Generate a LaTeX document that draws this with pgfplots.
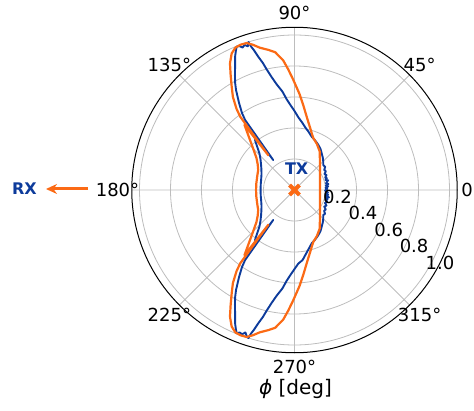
\documentclass[border=0pt]{standalone}
\usepackage{fontspec}
\setmainfont{DejaVu Sans}
\usepackage{pgfplots}
\pgfplotsset{compat=1.18}
\usepgfplotslibrary{polar}
\usetikzlibrary{arrows.meta}
\definecolor{cor}{HTML}{FB6A15}
\definecolor{cbl}{HTML}{0D3B9B}
\definecolor{cgr}{HTML}{BDBDBD}
\begin{document}
\begin{tikzpicture}[x=1pt,y=1pt]
\useasboundingbox (0,0) rectangle (474,410);
\begin{polaraxis}[
  at={(294.5pt,220pt)}, anchor=center,
  scale only axis, width=325.5pt, height=325.5pt,
  xmin=0, xmax=360, ymin=0, ymax=1.05,
  xtick={0,45,...,315}, ytick={0.2,0.4,0.6,0.8,1.0},
  xticklabels={}, yticklabels={},
  extra y ticks={1.05}, extra y tick labels={},
  extra y tick style={grid=major, major grid style={black, line width=1pt}},
  grid=major, major grid style={cgr, line width=0.8pt},
  major tick length=0pt,
  axis line style={draw=none},
  clip=false,
]
\addplot[cbl, line width=1.9pt, line join=round] coordinates {
(0,0.197) (2,0.212) (4,0.201) (6,0.218) (8,0.204) (10,0.222) (12,0.208) (14,0.215) (16,0.226) (18,0.21) (20,0.222) (22,0.214) (25,0.228) (28,0.219) (31,0.236) (34,0.231) (37,0.248) (41,0.246) (45,0.262) (49,0.278) (53.5,0.295) (58,0.315) (63,0.332) (67,0.345) (72,0.361) (77,0.39) (80,0.408) (83.4,0.437) (87,0.47) (90,0.51) (92.5,0.545) (94.9,0.587) (97,0.64) (99.6,0.692) (101.5,0.745) (103,0.799) (104,0.845) (105.2,0.891) (106.2,0.94) (106.8,0.965) (107.3,1.0) (108,0.975) (109,0.99) (110,0.978) (111,0.995) (112,0.997) (113,0.97) (114,0.942) (115.5,0.89) (117.4,0.835) (119,0.79) (120.3,0.748) (122.5,0.666) (124.3,0.601) (125.2,0.553) (125.4,0.237) (125.8,0.42) (128.3,0.411) (131,0.365) (134,0.325) (138,0.295) (143,0.27) (148.6,0.25) (155,0.235) (162,0.226) (170,0.221) (180,0.219)
(190,0.221) (198,0.226) (205,0.235) (211.4,0.25) (217,0.27) (222,0.295) (226,0.325) (229,0.365) (231.7,0.411) (234.2,0.42) (234.6,0.237) (234.8,0.553) (235.7,0.601) (237.5,0.666) (239.7,0.748) (241,0.79) (242.6,0.835) (244.5,0.89) (246,0.942) (247,0.97) (248,0.997) (249,0.985) (250,0.99) (251,0.972) (252,0.995) (252.7,1.0) (253.2,0.965) (253.8,0.94) (254.8,0.891) (256,0.845) (257,0.799) (258.5,0.745) (260.4,0.692) (263,0.64) (265.1,0.587) (267.5,0.545) (270,0.51) (273,0.475) (276.6,0.455) (280,0.42) (283,0.395) (288,0.361) (293,0.345) (297,0.332) (302,0.315) (306.5,0.295) (311,0.278) (315,0.262) (319,0.246) (322,0.25) (325,0.233) (328,0.238) (331,0.22) (334,0.229) (337,0.214) (340,0.224) (342,0.209) (344,0.222) (346,0.211) (348,0.227) (350,0.205) (352,0.219) (354,0.203) (356,0.216) (358,0.2) (360,0.197)
};
\addplot[cor, line width=2.2pt, line join=round] coordinates {
(0,0.165) (10,0.167) (20,0.175) (30,0.19) (42,0.222) (50,0.255) (57,0.298) (64,0.33) (70,0.356) (72,0.372) (76,0.415) (80,0.47) (84,0.548) (87,0.62) (90.6,0.71) (93,0.78) (95,0.84) (98,0.898) (100.6,0.92) (103.7,0.945) (106,0.975) (108,0.997) (110.4,1.0) (112.5,0.995) (114.7,0.97) (117,0.917) (119,0.85) (121.3,0.78) (123.5,0.72) (125.5,0.645) (126.5,0.59) (127,0.28) (127.5,0.53) (129,0.49) (131,0.445) (134.7,0.381) (140,0.32) (145,0.29) (151,0.268) (160,0.256) (170,0.25) (180,0.248)
(190,0.25) (200,0.256) (209,0.268) (215,0.29) (220,0.32) (225.3,0.381) (229,0.445) (231,0.49) (232.5,0.53) (233,0.28) (233.5,0.59) (234.5,0.645) (236.5,0.72) (238.7,0.78) (241,0.85) (243,0.917) (245.3,0.97) (247.5,0.995) (249.6,1.0) (252,0.997) (254,0.975) (256.3,0.945) (259.4,0.92) (262,0.898) (265,0.84) (267,0.78) (269.4,0.71) (273,0.62) (276,0.548) (280,0.47) (284,0.415) (288,0.372) (290,0.356) (296,0.33) (303,0.298) (310,0.255) (318,0.222) (330,0.19) (340,0.175) (350,0.167) (360,0.165)
};
\addplot[cor, only marks, mark=x, mark size=7pt, mark options={line width=4.2pt}] coordinates {(0,0)};
\begin{scope}[font=\fontsize{18}{20}\selectfont]
\node at (axis cs:0,1.142) {0°};
\node at (axis cs:45,1.142) {45°};
\node at (axis cs:90,1.142) {90°};
\node at (axis cs:135,1.142) {135°};
\node at (axis cs:180,1.142) {180°};
\node at (axis cs:225,1.142) {225°};
\node at (axis cs:270,1.142) {270°};
\node at (axis cs:315,1.142) {315°};
\node at (axis cs:351.1,0.281) {0.2};
\node at (axis cs:341.2,0.467) {0.4};
\node at (axis cs:337.0,0.660) {0.6};
\node at (axis cs:334.9,0.852) {0.8};
\node at (axis cs:333.4,1.050) {1.0};
\end{scope}
\end{polaraxis}
\node[font=\fontsize{20}{22}\selectfont] at (295.5,21) {{\itshape ϕ} [deg]};
\node[font=\fontsize{16}{18}\selectfont\bfseries, text=cbl] at (296.7,241) {TX};
\node[font=\fontsize{16}{18}\selectfont\bfseries, text=cbl] at (24.5,221.5) {RX};
\draw[cor, line width=3pt, -{Stealth[length=11pt,width=10pt]}] (88,221) -- (46,221);
\end{tikzpicture}
\end{document}
